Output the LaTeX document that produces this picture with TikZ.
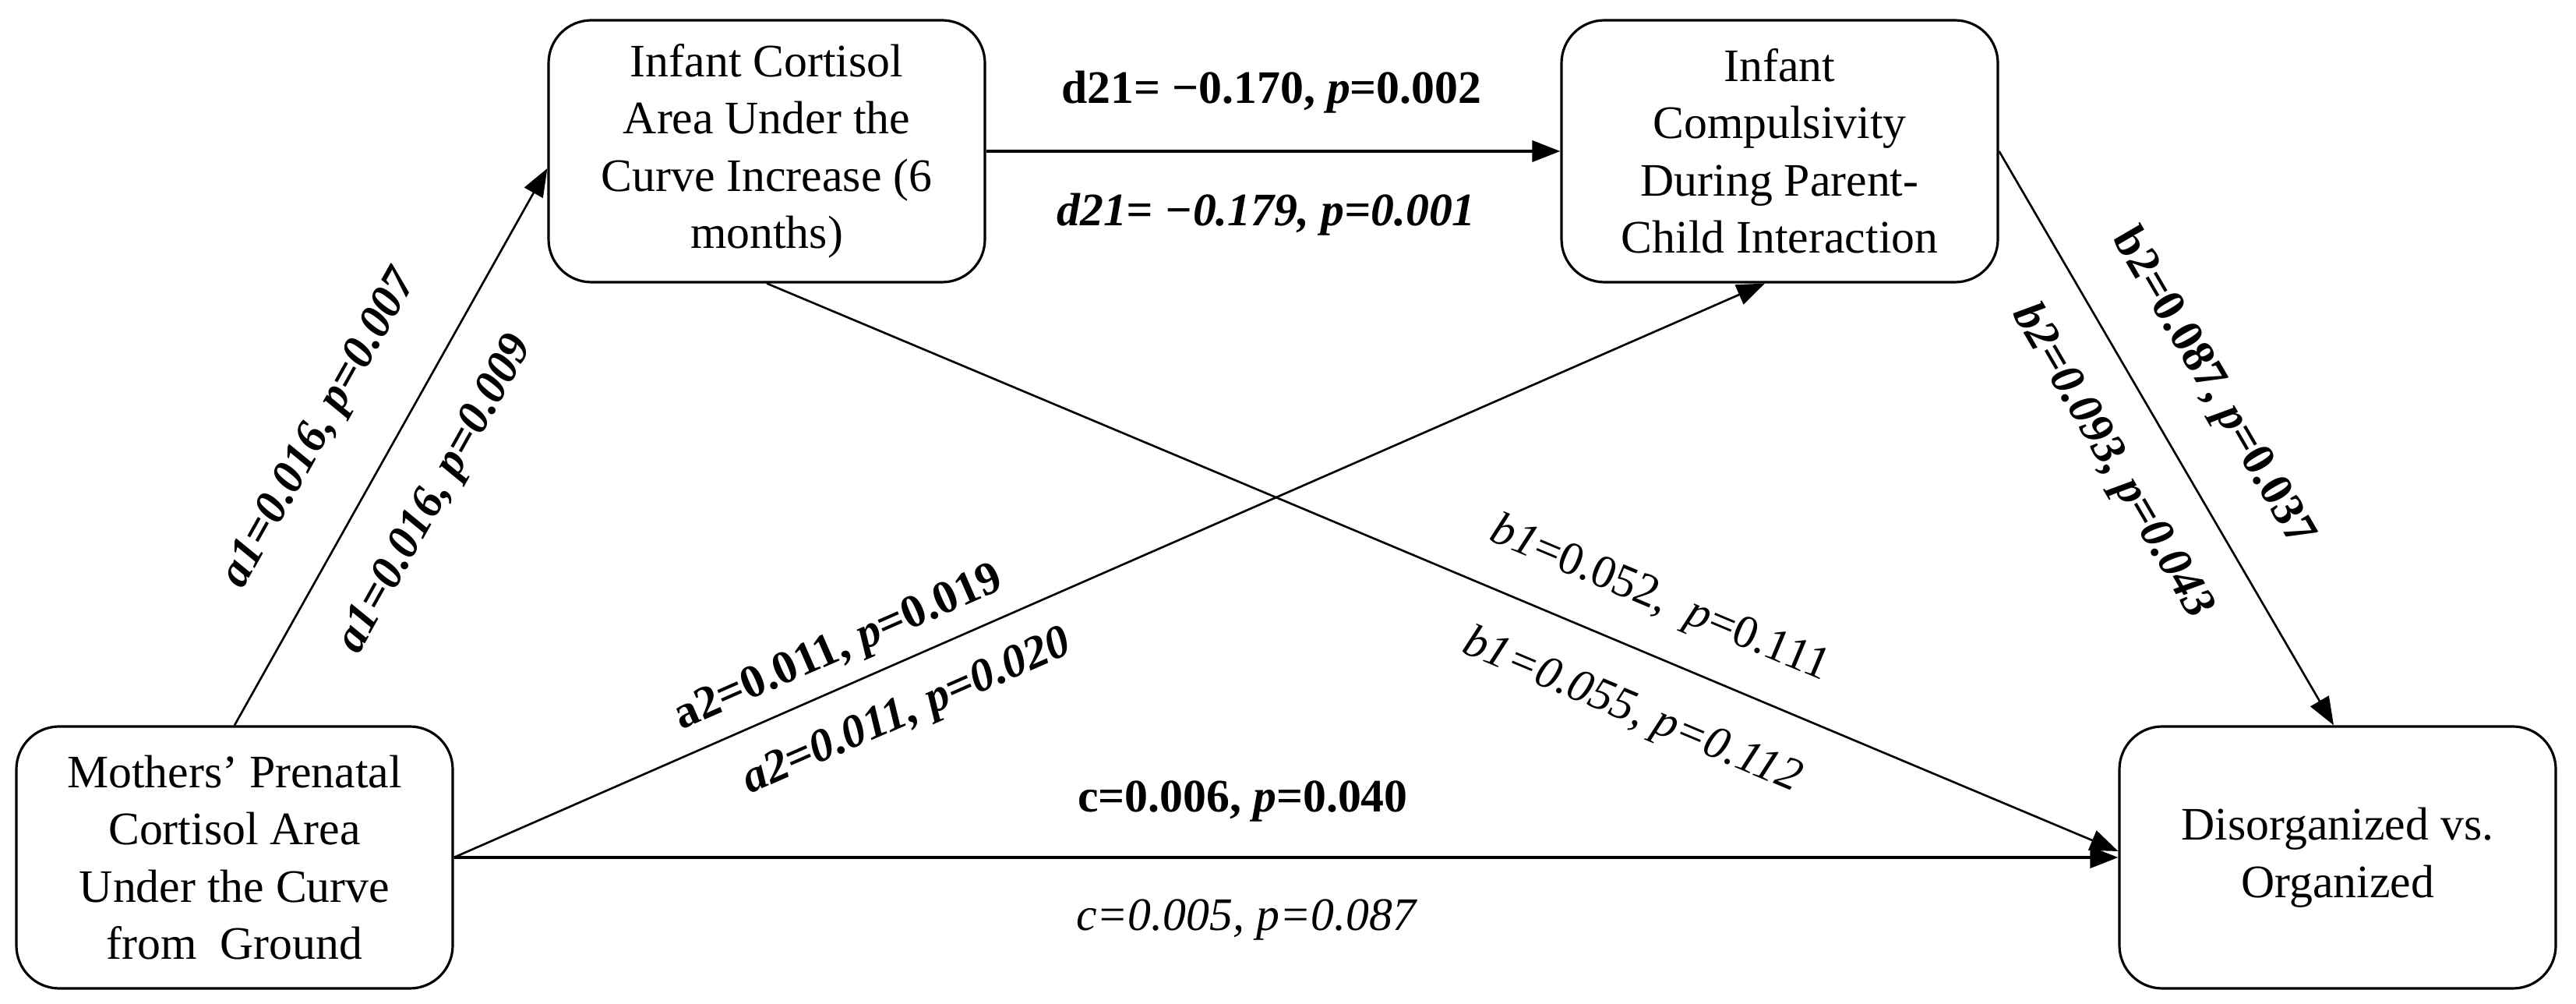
\documentclass[tikz,border=0pt]{standalone}
\usepackage{fontspec}
\setmainfont{Liberation Serif}
\usetikzlibrary{arrows.meta}
\begin{document}
\begin{tikzpicture}[
  box/.style={draw, line width=0.9pt, rounded corners=0.55cm, minimum width=5.6cm, minimum height=3.36cm, align=center, inner sep=0pt, font=\fontsize{17}{20.9}\selectfont},
  conn/.style={line width=0.75pt, -{Triangle[length=0.36cm,width=0.27cm]}},
  hconn/.style={conn, line width=1.1pt},
  lab/.style={inner sep=0pt, font=\fontsize{17}{20.9}\selectfont},
]
\useasboundingbox (0,0) rectangle (33.06,12.88);

\node[box] (moth) at (3.01,1.88) {Mothers’ Prenatal\\Cortisol Area\\Under the Curve\\from~ Ground};
\node[box] (cort) at (9.84,10.94) {Infant Cortisol\\Area Under the\\Curve Increase (6\\months)};
\node[box] (comp) at (22.84,10.94) {Infant\\Compulsivity\\During Parent-\\Child Interaction};
\node[box] (dis) at (30.00,1.88) {Disorganized vs.\\Organized};

\draw[conn] (moth.north) -- ([yshift=-0.22cm]cort.west);
\draw[hconn] (cort.east) -- (comp.west);
\draw[conn] (moth.east) -- ([xshift=-0.19cm]comp.south);
\draw[conn] (cort.south) -- ([yshift=0.08cm]dis.west);
\draw[hconn] (moth.east) -- (dis.west);
\draw[conn] (comp.east) -- ([xshift=-0.05cm]dis.north);

\node[lab, rotate=60.7] (la1u) at (4.12,7.38) {\textbf{\textit{a1=0.016, p=0.007}}};
\node[lab, rotate=60.7] (la1l) at (5.60,6.53) {\textbf{\textit{a1=0.016, p=0.009}}};

\node[lab] (ld21u) at (16.32,11.70) {\textbf{d21= −0.170, \textit{p}=0.002}};
\node[lab] (ld21l) at (16.25,10.13) {\textbf{\textit{d21= −0.179, p=0.001}}};

\node[lab, rotate=23.67] (la2u) at (10.77,4.55) {\textbf{a2=0.011, \textit{p}=0.019}};
\node[lab, rotate=23.67] (la2l) at (11.65,3.73) {\textbf{\textit{a2=0.011, p=0.020}}};

\node[lab, rotate=-22.79] (lb1u) at (21.30,5.18) {\textit{b1}=0.052,~ \textit{p}=0.111};
\node[lab, rotate=-22.79] (lb1l) at (20.94,3.75) {\textit{b1=0.055, p=0.112}};

\node[lab] (lcu) at (15.95,2.60) {\textbf{c=0.006, \textit{p}=0.040}};
\node[lab] (lcl) at (16.00,1.08) {\textit{c=0.005, p=0.087}};

\node[lab, rotate=-59.77] (lb2u) at (28.39,7.91) {\textbf{b2=0.087, \textit{p}=0.037}};
\node[lab, rotate=-59.77] (lb2l) at (27.10,6.96) {\textbf{\textit{b2=0.093, p=0.043}}};
\end{tikzpicture}
\end{document}
